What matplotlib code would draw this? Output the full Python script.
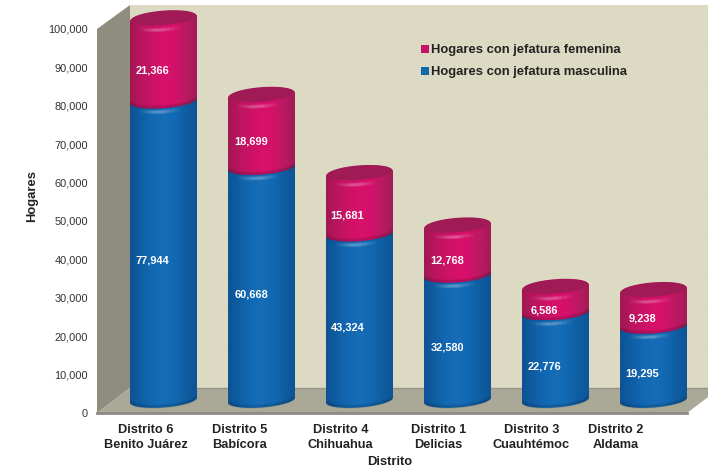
import matplotlib
matplotlib.use("Agg")
import matplotlib.pyplot as plt
import numpy as np
from matplotlib.colors import LinearSegmentedColormap
from matplotlib.patches import Patch, Polygon
from matplotlib.ticker import FuncFormatter
from matplotlib.transforms import ScaledTranslation

plt.rcParams['font.family'] = ['Liberation Sans', 'DejaVu Sans']

# ----- data -----
distritos = ['Distrito 6\nBenito Juárez', 'Distrito 5\nBabícora', 'Distrito 4\nChihuahua',
             'Distrito 1\nDelicias', 'Distrito 3\nCuauhtémoc', 'Distrito 2\nAldama']
masculina = [77944, 60668, 43324, 32580, 22776, 19295]
femenina = [21366, 18699, 15681, 12768, 6586, 9238]
y_ticks = [0, 10000, 20000, 30000, 40000, 50000, 60000, 70000, 80000, 90000, 100000]

# ----- layout, in pixels of the 708x469 picture -----
W, H = 708, 469
AX_L, AX_R, AX_T, AX_B = 97, 687, 29, 413
BAR_0, BAR_STEP = 163.5, 98.0
PX_Y = 100000 / (AX_B - AX_T)  # data units for one pixel
PX_X = 1 / BAR_STEP
DEPTH_X, DEPTH_Y = 33 * PX_X, 25 * PX_Y
A = 33.5 * PX_X      # half width of a cylinder
B = 7.5 * PX_Y       # half height of the ellipse
TILT = 2.5 * PX_Y    # rise of the ellipse at the right end
BASE = 5.5 * PX_Y    # gap between the axis and the front of the cylinder

label_shift = [-18, -22, -19, -19, -24, -38]
masc_text_shift = [(-11, -3), (-10, -3), (-12, -3), (-10, -3), (-11, -3), (-11, -3)]
fem_text_shift = [(-11, -3), (-10, -3), (-12, -4), (-10, -3), (-11, -3), (-11, -3)]

blue_cmap = LinearSegmentedColormap.from_list('azul', ['#0d5294', '#0f5ea4', '#1269b3', '#176db6', '#1269b3', '#0f5ea2', '#0d5496'])
pink_cmap = LinearSegmentedColormap.from_list('rosa', ['#a01852', '#bb1560', '#cc1266', '#d8106c', '#d4116a', '#bb1a62', '#a31a58'])


def ellipse(xc, yc, t, scale=1.0):
    return xc + scale * A * np.cos(t), yc + scale * B * np.sin(t) + scale * TILT * np.cos(t)


def draw_cylinder(ax, xc, bottom, height, cmap, top_color, z):
    # bottom: front of the lower ellipse, height: value of the segment
    yc0 = bottom + B
    yc1 = bottom + height + B
    xb, yb = ellipse(xc, yc0, np.linspace(np.pi, 2 * np.pi, 60))
    xt, yt = ellipse(xc, yc1, np.linspace(0, np.pi, 60))
    outline = Polygon(np.column_stack([np.r_[xb, xt], np.r_[yb, yt]]), closed=True,
                      fc='none', ec='none', clip_on=False, zorder=z)
    ax.add_patch(outline)
    grad = np.linspace(0, 1, 128).reshape(1, -1)
    im = ax.imshow(grad, cmap=cmap, aspect='auto', zorder=z, interpolation='bilinear',
                   extent=[xc - A, xc + A, yb.min(), yt.max()])
    im.set_clip_path(outline)
    im.set_clip_box(fig.bbox)
    # shadow along the bottom edge
    t = np.linspace(np.pi * 1.1, np.pi * 1.9, 40)
    for k, al in [(0.8, 0.10), (2.2, 0.06)]:
        x, y = ellipse(xc, yc0 + k * PX_Y, t)
        ax.plot(x, y, color='black', alpha=al, lw=2, zorder=z + 0.1, clip_on=False)
    # soft highlight under the top rim, nested arcs fading out to the sides
    for span, al in [(0.20, 0.035), (0.15, 0.045), (0.10, 0.05), (0.06, 0.05)]:
        t = np.linspace(np.pi * (1.46 - span), np.pi * (1.46 + span), 30)
        for k in (2.5, 3.5, 4.5):
            x, y = ellipse(xc, yc1 - k * PX_Y, t)
            ax.plot(x, y, color='white', alpha=al, lw=1.3, zorder=z + 0.1, clip_on=False, solid_capstyle='butt')
    # top face, a bit smaller than the body so a rim stays visible
    xe, ye = ellipse(xc, yc1 + 0.8 * PX_Y, np.linspace(0, 2 * np.pi, 120), scale=0.97)
    ax.fill(xe, ye, color=top_color, lw=0, zorder=z + 0.2, clip_on=False)


fig = plt.figure(figsize=(W / 100, H / 100), dpi=100)
ax = fig.add_axes([AX_L / W, 1 - AX_B / H, (AX_R - AX_L) / W, (AX_B - AX_T) / H])
x_min, x_max = (AX_L - BAR_0) * PX_X, (AX_R - BAR_0) * PX_X
ax.patch.set_visible(False)

# walls and floor
top_back = 100000 + 24 * PX_Y
ax.add_patch(Polygon([(x_min + DEPTH_X, DEPTH_Y), (x_max + DEPTH_X, DEPTH_Y),
                      (x_max + DEPTH_X, top_back), (x_min + DEPTH_X, top_back)],
                     fc='#dddac3', ec='none', clip_on=False, zorder=1))
ax.add_patch(Polygon([(x_min, 0), (x_min, 100000), (x_min + DEPTH_X, top_back), (x_min + DEPTH_X, DEPTH_Y)],
                     fc='#8f8d7e', ec='none', clip_on=False, zorder=1))
ax.add_patch(Polygon([(x_min, 0), (x_max, 0), (x_max + DEPTH_X, DEPTH_Y), (x_min + DEPTH_X, DEPTH_Y)],
                     fc='#aaa896', ec='none', clip_on=False, zorder=1))
ax.plot([x_min + DEPTH_X, x_max + DEPTH_X], [DEPTH_Y, DEPTH_Y], color='#98968a', lw=1, zorder=1.2, clip_on=False)
ax.plot([x_min, x_max], [0, 0], color='#8b8b88', lw=2, zorder=1.2, clip_on=False)
for v in y_ticks[1:-1]:
    ax.plot([x_min + DEPTH_X, x_max + DEPTH_X], [v + DEPTH_Y] * 2, color='#dad7c0', lw=0.6, zorder=1.1, clip_on=False)

# cylinders
for i in range(len(distritos)):
    draw_cylinder(ax, i, BASE, masculina[i], blue_cmap, '#1268ad', 3)
    draw_cylinder(ax, i, BASE + masculina[i], femenina[i], pink_cmap, '#a01b56', 4)
    ax.annotate(f'{masculina[i]:,}', (i, BASE + masculina[i] / 2), xytext=masc_text_shift[i],
                textcoords='offset pixels', ha='center', va='center', color='white',
                fontsize=7.9, fontweight='bold', zorder=6)
    ax.annotate(f'{femenina[i]:,}', (i, BASE + masculina[i] + femenina[i] / 2), xytext=fem_text_shift[i],
                textcoords='offset pixels', ha='center', va='center', color='white',
                fontsize=7.9, fontweight='bold', zorder=6)

ax.set_xlim(x_min, x_max)
ax.set_ylim(0, 100000)
for s in ax.spines.values():
    s.set_visible(False)

ax.set_yticks(y_ticks)
ax.yaxis.set_major_formatter(FuncFormatter(lambda v, p: f'{int(v):,}'))
ax.tick_params(axis='y', length=0, pad=6.5, labelsize=7.9, labelcolor='#333333')
ax.set_xticks(range(len(distritos)))
ax.set_xticklabels(distritos, fontsize=9.2, fontweight='bold', color='#222222', linespacing=1.3)
ax.tick_params(axis='x', length=0, pad=8)
for lab, dx in zip(ax.get_xticklabels(), label_shift):
    lab.set_transform(lab.get_transform() + ScaledTranslation(dx / 100, 0, fig.dpi_scale_trans))

fig.text(32 / W, 1 - 196 / H, 'Hogares', rotation=90, ha='center', va='center',
         fontsize=9.4, fontweight='bold', color='#222222')
fig.text(390 / W, 1 - 462 / H, 'Distrito', ha='center', va='center',
         fontsize=9.4, fontweight='bold', color='#222222')

handles = [Patch(fc='#c8126a', ec='none', label='Hogares con jefatura femenina'),
           Patch(fc='#1268ad', ec='none', label='Hogares con jefatura masculina')]
ax.legend(handles=handles, loc='upper left', bbox_to_anchor=(421 / W, 1 - 44.5 / H),
          bbox_transform=fig.transFigure, frameon=False, borderpad=0, borderaxespad=0,
          prop={'weight': 'bold', 'size': 9.4}, handlelength=0.6, handleheight=0.6,
          handletextpad=0.15, labelspacing=0.76, labelcolor='#222222').set_zorder(7)

fig.savefig('out.png', dpi=100)
